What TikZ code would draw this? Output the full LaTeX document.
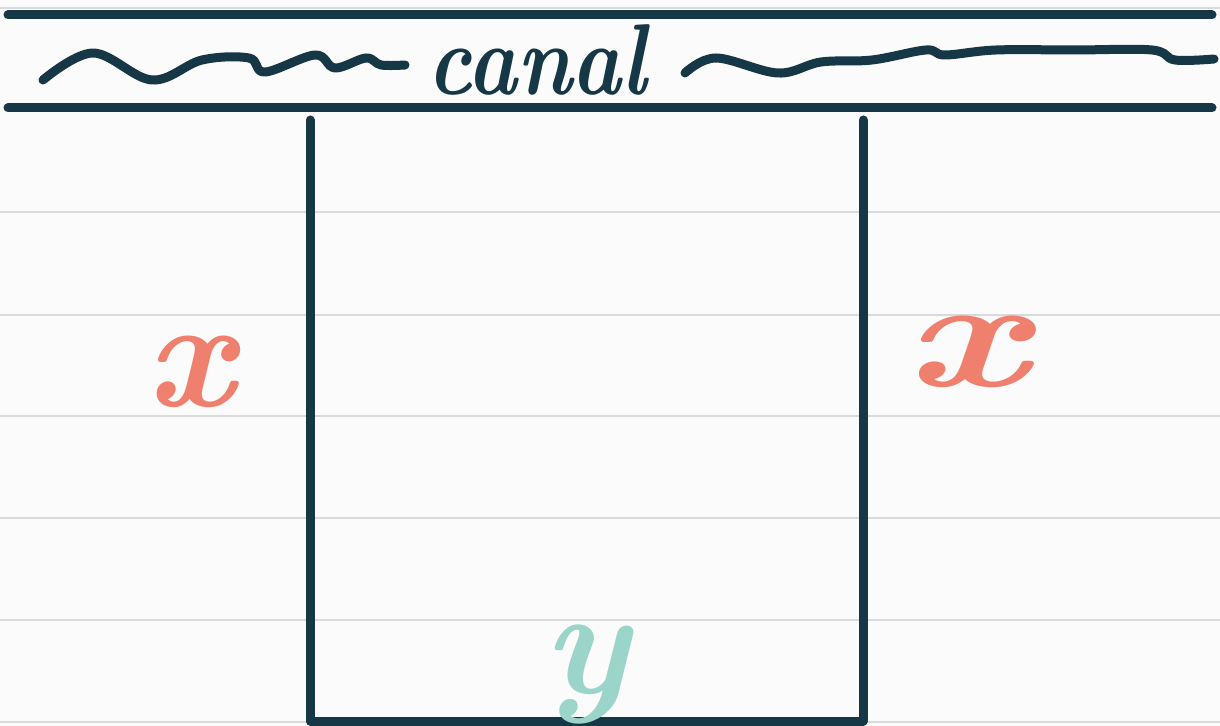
\documentclass[tikz,border=0pt]{standalone}
\usepackage{fontspec}
\usepackage{tikz}
\usetikzlibrary{positioning}
\definecolor{canalInk}{HTML}{163746}
\definecolor{sideSalmon}{HTML}{EF806E}
\definecolor{depthTeal}{HTML}{9BD4C8}
\definecolor{ruleGrey}{HTML}{DADADA}
\definecolor{paperWhite}{HTML}{FBFBFB}

\begin{document}
\begin{tikzpicture}[x=0.5pt,y=-0.5pt,
    ink/.style={draw=canalInk,line width=4.5pt,line cap=round,line join=round},
    ruling/.style={draw=ruleGrey,line width=1pt},
    sideLabel/.style={text=sideSalmon,font=\fontsize{78}{78}\selectfont\bfseries\itshape,inner sep=0pt},
  ]
  \fill[paperWhite] (0,0) rectangle (1220,726);
  \useasboundingbox (0,0) rectangle (1220,726);

  % notebook rulings
  \foreach \ry in {8,212,315,416,518,620,722}
    \draw[ruling] (0,\ry) -- (1220,\ry);

  % canal banks
  \draw[ink] (8,15) -- (1212,15);
  \draw[ink] (8,108) -- (1212,108);

  % water surface
  \draw[ink] plot[smooth,tension=0.6] coordinates {(43,80) (93,53) (152,80) (202,60) (249,58)
    (265,72) (315,55) (335,68) (366,58) (381,65) (405,65)};
  \draw[ink] plot[smooth,tension=0.6] coordinates {(685,73) (716,58) (778,73) (821,62) (872,60)
    (926,50) (945,55) (996,50) (1074,50) (1152,50) (1175,60) (1214,59)};
  \node[text=canalInk,font=\fontsize{42}{42}\selectfont\bfseries\itshape,yscale=1.2] (canalName) at (537,60) {canal};

  % cross-section
  \coordinate (topLeft) at (310,120);
  \coordinate (botLeft) at (310,721);
  \coordinate (botRight) at (863,721);
  \coordinate (topRight) at (863,120);
  \draw[ink] (topLeft) -- (botLeft) -- (botRight) -- (topRight);

  \node[sideLabel] (leftWidth) at (190,372) {x};
  \node[sideLabel,xscale=1.4] (rightWidth) at (966,352) {x};
  \node[text=depthTeal,font=\fontsize{76}{76}\selectfont\bfseries\itshape,inner sep=0pt] (depth) at (586,674) {y};
\end{tikzpicture}
\end{document}
